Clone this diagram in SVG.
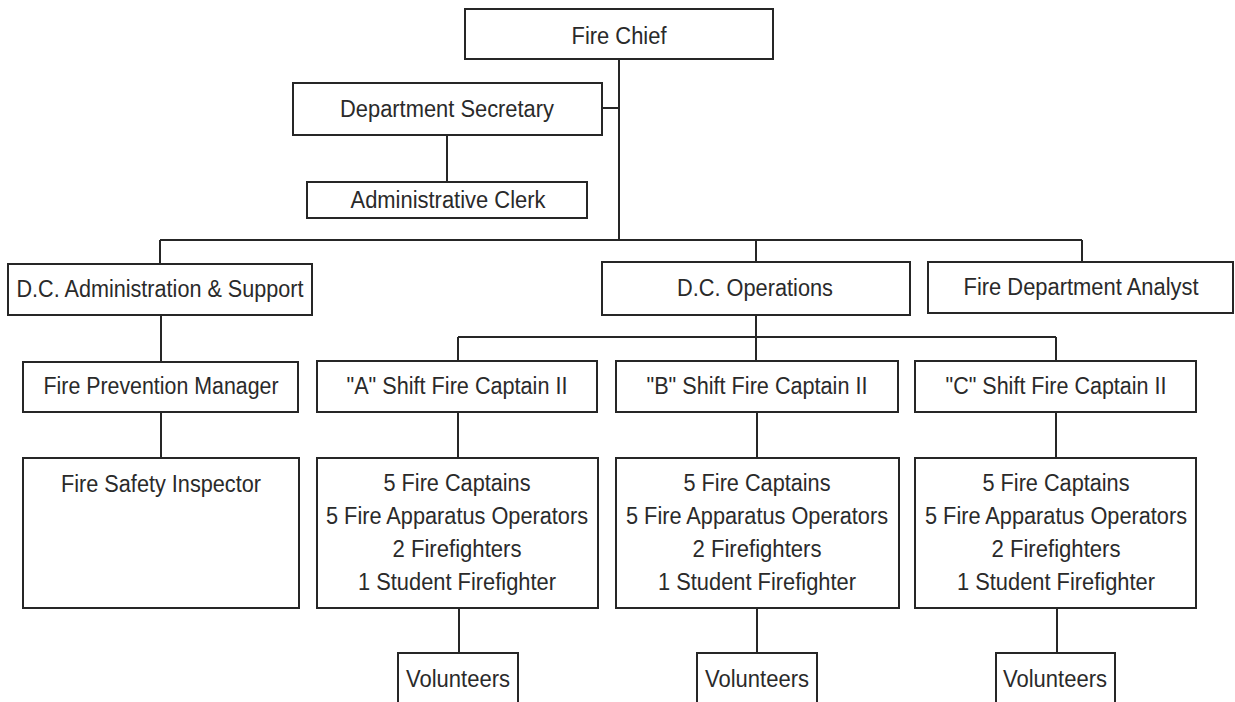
<svg xmlns="http://www.w3.org/2000/svg" width="1235" height="702" viewBox="0 0 1235 702">
<style>
.box{fill:#fff;stroke:#262626;stroke-width:2}
.ln{fill:none;stroke:#262626;stroke-width:2}
text{font-family:"Liberation Sans",Arial,sans-serif;font-size:23.5px;fill:#2a2a2a;text-anchor:middle}
</style>
<rect width="1235" height="702" fill="#fff"/>
<g id="connectors" class="ln">
<path d="M619 59V240M602 108H619M447 135V182"/>
<path d="M160 240H1082M160 240V264M756 240V262M1082 240V262"/>
<path d="M161 315V362M161 412V458"/>
<path d="M756 315V337M458 337H1056M458 337V361M756 337V361M1056 337V361"/>
<path d="M458 412V458M757 412V458M1056 412V458"/>
<path d="M459 608V653M757 608V653M1057 608V653"/>
</g>
<g id="fire-chief"><rect class="box" x="465" y="9" width="308" height="50"/><text x="619" y="44" textLength="95" lengthAdjust="spacingAndGlyphs">Fire Chief</text></g>
<g id="dept-secretary"><rect class="box" x="293" y="83" width="309" height="52"/><text x="447" y="117" textLength="214" lengthAdjust="spacingAndGlyphs">Department Secretary</text></g>
<g id="admin-clerk"><rect class="box" x="307" y="182" width="280" height="36"/><text x="448" y="208" textLength="195" lengthAdjust="spacingAndGlyphs">Administrative Clerk</text></g>
<g id="dc-admin"><rect class="box" x="8" y="264" width="304" height="51"/><text x="160" y="297" textLength="287" lengthAdjust="spacingAndGlyphs">D.C. Administration &amp; Support</text></g>
<g id="dc-ops"><rect class="box" x="602" y="262" width="308" height="53"/><text x="755" y="296" textLength="156" lengthAdjust="spacingAndGlyphs">D.C. Operations</text></g>
<g id="analyst"><rect class="box" x="928" y="262" width="305" height="51"/><text x="1081" y="295" textLength="235" lengthAdjust="spacingAndGlyphs">Fire Department Analyst</text></g>
<g id="fpm"><rect class="box" x="23" y="362" width="275" height="50"/><text x="161" y="394" textLength="235" lengthAdjust="spacingAndGlyphs">Fire Prevention Manager</text></g>
<g id="shift-a"><rect class="box" x="317" y="361" width="280" height="51"/><text x="457" y="394" textLength="221" lengthAdjust="spacingAndGlyphs">"A" Shift Fire Captain II</text></g>
<g id="shift-b"><rect class="box" x="616" y="361" width="282" height="51"/><text x="757" y="394" textLength="221" lengthAdjust="spacingAndGlyphs">"B" Shift Fire Captain II</text></g>
<g id="shift-c"><rect class="box" x="915" y="361" width="281" height="51"/><text x="1056" y="394" textLength="221" lengthAdjust="spacingAndGlyphs">"C" Shift Fire Captain II</text></g>
<g id="fsi"><rect class="box" x="23" y="458" width="276" height="150"/><text x="161" y="492" textLength="200" lengthAdjust="spacingAndGlyphs">Fire Safety Inspector</text></g>
<g id="crew-a"><rect class="box" x="317" y="458" width="281" height="150"/>
<text x="457" y="491" textLength="147" lengthAdjust="spacingAndGlyphs">5 Fire Captains</text><text x="457" y="524" textLength="262" lengthAdjust="spacingAndGlyphs">5 Fire Apparatus Operators</text><text x="457" y="557" textLength="129" lengthAdjust="spacingAndGlyphs">2 Firefighters</text><text x="457" y="590" textLength="198" lengthAdjust="spacingAndGlyphs">1 Student Firefighter</text></g>
<g id="crew-b"><rect class="box" x="616" y="458" width="283" height="150"/>
<text x="757" y="491" textLength="147" lengthAdjust="spacingAndGlyphs">5 Fire Captains</text><text x="757" y="524" textLength="262" lengthAdjust="spacingAndGlyphs">5 Fire Apparatus Operators</text><text x="757" y="557" textLength="129" lengthAdjust="spacingAndGlyphs">2 Firefighters</text><text x="757" y="590" textLength="198" lengthAdjust="spacingAndGlyphs">1 Student Firefighter</text></g>
<g id="crew-c"><rect class="box" x="915" y="458" width="281" height="150"/>
<text x="1056" y="491" textLength="147" lengthAdjust="spacingAndGlyphs">5 Fire Captains</text><text x="1056" y="524" textLength="262" lengthAdjust="spacingAndGlyphs">5 Fire Apparatus Operators</text><text x="1056" y="557" textLength="129" lengthAdjust="spacingAndGlyphs">2 Firefighters</text><text x="1056" y="590" textLength="198" lengthAdjust="spacingAndGlyphs">1 Student Firefighter</text></g>
<g id="vol-a"><rect class="box" x="398" y="653" width="120" height="60"/><text x="458" y="687" textLength="104" lengthAdjust="spacingAndGlyphs">Volunteers</text></g>
<g id="vol-b"><rect class="box" x="697" y="653" width="120" height="60"/><text x="757" y="687" textLength="104" lengthAdjust="spacingAndGlyphs">Volunteers</text></g>
<g id="vol-c"><rect class="box" x="996" y="653" width="119" height="60"/><text x="1055" y="687" textLength="104" lengthAdjust="spacingAndGlyphs">Volunteers</text></g>
</svg>
